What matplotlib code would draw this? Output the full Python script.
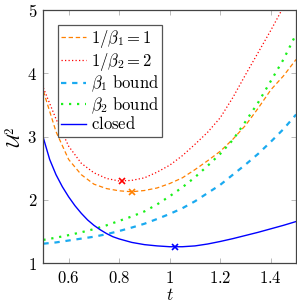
import matplotlib
matplotlib.use("Agg")
import matplotlib.pyplot as plt
import numpy as np

plt.rcParams['mathtext.fontset'] = 'cm'
plt.rcParams['font.family'] = ['DejaVu Serif']

# ---- data ----
t = [0.50, 0.55, 0.60, 0.65, 0.70, 0.75, 0.80, 0.85, 0.90, 0.95, 1.00,
     1.05, 1.10, 1.15, 1.20, 1.25, 1.30, 1.35, 1.40, 1.45, 1.50]

beta1_inv = [3.72, 3.08, 2.64, 2.40, 2.25, 2.18, 2.145, 2.13, 2.15, 2.19, 2.26,
             2.35, 2.48, 2.62, 2.77, 2.96, 3.18, 3.45, 3.74, 3.96, 4.22]
beta2_inv = [3.77, 3.28, 2.85, 2.58, 2.43, 2.34, 2.30, 2.31, 2.35, 2.44, 2.55,
             2.70, 2.88, 3.07, 3.30, 3.62, 3.98, 4.33, 4.68, 5.05, 5.45]
beta1_bound = [1.31, 1.33, 1.36, 1.39, 1.42, 1.46, 1.51, 1.565, 1.625, 1.70, 1.78,
               1.87, 1.98, 2.11, 2.24, 2.40, 2.56, 2.73, 2.92, 3.12, 3.35]
beta2_bound = [1.37, 1.405, 1.445, 1.49, 1.54, 1.60, 1.67, 1.74, 1.82, 1.93, 2.06,
               2.20, 2.36, 2.54, 2.73, 2.95, 3.24, 3.54, 3.88, 4.22, 4.62]

t_closed = [0.50, 0.525, 0.55, 0.575, 0.60, 0.625, 0.65, 0.675, 0.70, 0.725,
            0.75, 0.775, 0.80, 0.85, 0.90, 0.95, 1.00, 1.05, 1.10, 1.15, 1.20,
            1.25, 1.30, 1.35, 1.40, 1.45, 1.50]
closed = [2.98, 2.64, 2.40, 2.21, 2.05, 1.91, 1.79, 1.685, 1.60, 1.53,
          1.47, 1.42, 1.385, 1.33, 1.295, 1.275, 1.262, 1.262, 1.275, 1.305, 1.345,
          1.39, 1.44, 1.49, 1.545, 1.60, 1.66]

min_t = [0.851, 0.813, 1.02]
min_v = [2.13, 2.30, 1.26]

labels = [r"$1/\beta_1 = 1$", r"$1/\beta_2 = 2$", r"$\beta_1\ \mathrm{bound}$",
          r"$\beta_2\ \mathrm{bound}$", r"$\mathrm{closed}$"]
xticks = [0.6, 0.8, 1.0, 1.2, 1.4]
xticklabels = ["0.6", "0.8", "1", "1.2", "1.4"]
yticks = [1, 2, 3, 4, 5]
yticklabels = ["1", "2", "3", "4", "5"]

c_orange = "#FF8000"
c_red = "#FF0000"
c_cyan = "#1AAAF0"
c_green = "#1AF01A"
c_blue = "#0000FF"

fig = plt.figure(figsize=(2.97, 3.07), dpi=100)
ax = fig.add_axes([0.146, 0.1423, 0.851, 0.825])

ax.plot(t, beta1_inv, color=c_orange, lw=0.9, dashes=(3.5, 2.2), label=labels[0])
ax.plot(t, beta2_inv, color=c_red, lw=0.9, dashes=(1.0, 1.8), label=labels[1])
ax.plot(t, beta1_bound, color=c_cyan, lw=1.6, dashes=(2.4, 2.6), label=labels[2])
ax.plot(t, beta2_bound, color=c_green, lw=1.6, dashes=(1.0, 2.6), label=labels[3])
ax.plot(t_closed, closed, color=c_blue, lw=1.0, label=labels[4])

ax.plot(min_t[0], min_v[0], marker='x', color=c_orange, ms=5, mew=1.2)
ax.plot(min_t[1], min_v[1], marker='x', color=c_red, ms=5, mew=1.2)
ax.plot(min_t[2], min_v[2], marker='x', color=c_blue, ms=5, mew=1.2)

ax.set_xlim(0.5, 1.5)
ax.set_ylim(1, 5)
ax.set_xticks(xticks)
ax.set_xticklabels(["$" + s + "$" for s in xticklabels])
ax.set_yticks(yticks)
ax.set_yticklabels(["$" + s + "$" for s in yticklabels])
ax.tick_params(direction='in', top=True, right=True, length=3.5, width=0.6,
               color='#b0b0b0', labelsize=12, pad=4.5)
for sp in ax.spines.values():
    sp.set_color('#444444')
    sp.set_linewidth(0.9)

ax.set_xlabel(r"$t$", fontsize=12.5, labelpad=0)
ax.set_ylabel(r"$\mathcal{U}^2$", fontsize=13, labelpad=1)

leg = ax.legend(loc='upper left', bbox_to_anchor=(0.058, 0.942), fontsize=12,
                handlelength=1.45, handletextpad=0.3, labelspacing=0.05,
                borderpad=0.2, borderaxespad=0.0, frameon=True, fancybox=False)
leg.get_frame().set_edgecolor('#555555')
leg.get_frame().set_linewidth(0.9)
leg.get_frame().set_alpha(1)

fig.savefig("out.png", dpi=100)
